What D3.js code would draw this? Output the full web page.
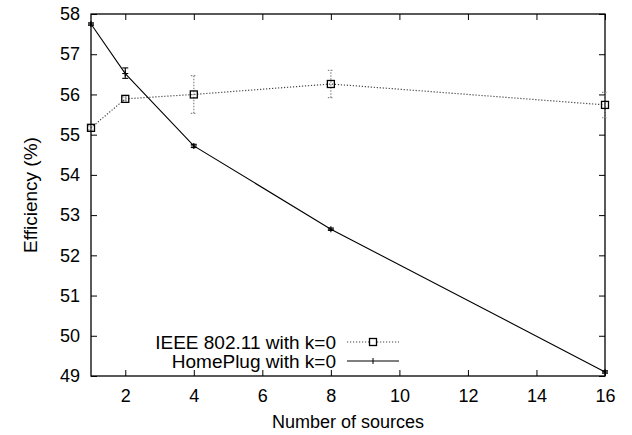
<!DOCTYPE html>
<html><head><meta charset="utf-8">
<script src="https://cdn.jsdelivr.net/npm/d3@7"></script>
<style>body{margin:0;background:#fff}svg{display:block}text{font-family:"Liberation Sans",Arial,sans-serif;fill:#000}</style>
</head><body><svg id="c" width="632" height="435"></svg>
<script>
const sources = [1, 2, 4, 8, 16];
const ieeeValues = [55.17, 55.89, 56.0, 56.26, 55.74];
const ieeeLow = [55.12, 55.84, 55.53, 55.92, 55.42];
const ieeeHigh = [55.22, 55.94, 56.47, 56.6, 56.05];
const hpValues = [57.75, 56.52, 54.72, 52.65, 49.1];
const hpLow = [57.72, 56.4, 54.68, 52.62, 49.07];
const hpHigh = [57.78, 56.66, 54.76, 52.68, 49.13];
const xTicks = [2, 4, 6, 8, 10, 12, 14, 16];
const yTicks = [49, 50, 51, 52, 53, 54, 55, 56, 57, 58];
const seriesNames = ["IEEE 802.11 with k=0", "HomePlug with k=0"];

const svg = d3.select("#c");
const L = 91, R = 605, T = 14, B = 376;
const x = d3.scaleLinear().domain([1, 16]).range([L, R]);
const y = d3.scaleLinear().domain([49, 58]).range([B, T]);
const tickFs = 18, legFs = 19, xlabFs = 18, ylabFs = 19;

// frame
svg.append("rect").attr("x", L).attr("y", T).attr("width", R - L).attr("height", B - T)
  .attr("fill", "none").attr("stroke", "#000").attr("stroke-width", 1.3);

// axes (inward ticks)
const ax = svg.append("g");
ax.append("g").attr("transform", `translate(0,${B})`)
  .call(d3.axisBottom(x).tickValues(xTicks).tickSize(-6).tickPadding(13).tickFormat(d3.format("d")))
  .call(g => { g.select(".domain").remove(); g.selectAll("text").attr("font-size", tickFs); });
ax.append("g").attr("transform", `translate(0,${T})`)
  .call(d3.axisTop(x).tickValues(xTicks).tickSize(-6).tickFormat(""))
  .call(g => g.select(".domain").remove());
ax.append("g").attr("transform", `translate(${L},0)`)
  .call(d3.axisLeft(y).tickValues(yTicks).tickSize(-6).tickPadding(11).tickFormat(d3.format("d")))
  .call(g => { g.select(".domain").remove(); g.selectAll("text").attr("font-size", tickFs); });
ax.append("g").attr("transform", `translate(${R},0)`)
  .call(d3.axisRight(y).tickValues(yTicks).tickSize(-6).tickFormat(""))
  .call(g => g.select(".domain").remove());
ax.selectAll(".tick line").attr("stroke", "#000");

// labels
svg.append("text").attr("x", (L + R) / 2).attr("y", 428).attr("text-anchor", "middle")
  .attr("font-size", xlabFs).text("Number of sources");
svg.append("text").attr("transform", `translate(37,${(T + B) / 2}) rotate(-90)`)
  .attr("text-anchor", "middle").attr("font-size", ylabFs).text("Efficiency (%)");

const line = d3.line().x(d => x(d[0])).y(d => y(d[1]));
const ieee = sources.map((s, i) => [s, ieeeValues[i], ieeeLow[i], ieeeHigh[i]]);
const hp = sources.map((s, i) => [s, hpValues[i], hpLow[i], hpHigh[i]]);

// IEEE error bars
const eg = svg.append("g").attr("stroke", "#888").attr("stroke-width", 1.2).attr("stroke-dasharray", "1.5,1.5");
ieee.forEach(d => {
  eg.append("line").attr("x1", x(d[0])).attr("x2", x(d[0])).attr("y1", y(d[2])).attr("y2", y(d[3]));
  [d[2], d[3]].forEach(v => eg.append("line").attr("x1", x(d[0]) - 3).attr("x2", x(d[0]) + 3).attr("y1", y(v)).attr("y2", y(v)));
});
svg.append("path").datum(ieee).attr("d", line).attr("fill", "none").attr("stroke", "#444")
  .attr("stroke-width", 1.2).attr("stroke-dasharray", "1.2,1.8");
svg.append("g").selectAll("rect").data(ieee).join("rect")
  .attr("x", d => x(d[0]) - 3.5).attr("y", d => y(d[1]) - 3.5).attr("width", 7).attr("height", 7)
  .attr("fill", "none").attr("stroke", "#000").attr("stroke-width", 1.3);

// HomePlug
const hg = svg.append("g").attr("stroke", "#000").attr("stroke-width", 1.1);
hp.forEach(d => {
  hg.append("line").attr("x1", x(d[0])).attr("x2", x(d[0])).attr("y1", y(d[2])).attr("y2", y(d[3]));
  [d[2], d[3]].forEach(v => hg.append("line").attr("x1", x(d[0]) - 3).attr("x2", x(d[0]) + 3).attr("y1", y(v)).attr("y2", y(v)));
  hg.append("line").attr("x1", x(d[0]) - 3).attr("x2", x(d[0]) + 3).attr("y1", y(d[1])).attr("y2", y(d[1]));
  hg.append("line").attr("x1", x(d[0])).attr("x2", x(d[0])).attr("y1", y(d[1]) - 3).attr("y2", y(d[1]) + 3);
});
svg.append("path").datum(hp).attr("d", line).attr("fill", "none").attr("stroke", "#000").attr("stroke-width", 1.1);

// legend
const lg = svg.append("g");
const ly = [342, 361];
seriesNames.forEach((n, i) => {
  lg.append("text").attr("x", 336).attr("y", ly[i]).attr("dy", "0.35em").attr("text-anchor", "end")
    .attr("font-size", legFs).text(n);
  lg.append("line").attr("x1", 347).attr("x2", 399).attr("y1", ly[i]).attr("y2", ly[i])
    .attr("stroke", i === 0 ? "#444" : "#000").attr("stroke-width", 1.1)
    .attr("stroke-dasharray", i === 0 ? "1.2,1.8" : null);
});
lg.append("rect").attr("x", 373 - 3.5).attr("y", ly[0] - 3.5).attr("width", 7).attr("height", 7)
  .attr("fill", "#fff").attr("stroke", "#000").attr("stroke-width", 1.3);
lg.append("line").attr("x1", 373).attr("x2", 373).attr("y1", ly[1] - 3).attr("y2", ly[1] + 3).attr("stroke", "#000");
</script></body></html>
